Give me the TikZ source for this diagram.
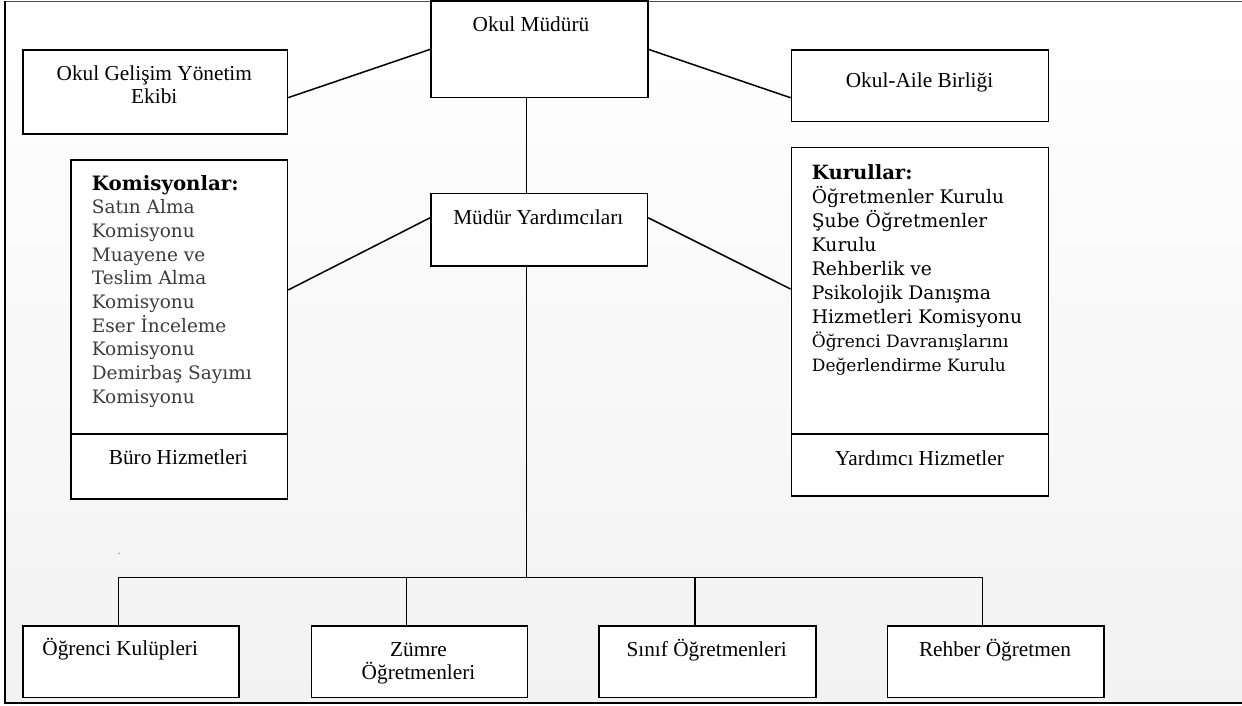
\documentclass[tikz,border=0pt]{standalone}
\usepackage{fontspec}
\setmainfont{Liberation Serif}
\newfontfamily\geo{DejaVu Serif}
\usetikzlibrary{calc}
\definecolor{bgbot}{RGB}{242,242,242}
\definecolor{listgray}{RGB}{60,60,60}
\begin{document}
\begin{tikzpicture}[x=1pt,y=-1pt,
  box/.style={draw=black, line width=1.6pt, fill=white, inner sep=0pt, anchor=north west},
  conn/.style={draw=black, line width=1.5pt},
  tnr/.style={font=\fontsize{21.3}{23.3}\selectfont, inner sep=0pt, text=black, align=center, anchor=base},
  geotxt/.style={font=\geo\fontsize{18.5}{23.7}\selectfont, inner sep=0pt, align=left, anchor=base west},
]
\useasboundingbox (0,0) rectangle (1242,706);
% background and frame
\shade[top color=white, bottom color=bgbot] (5,1.5) rectangle (1242,703.3);
\draw[line width=1.6pt, draw=black!70] (1242,1.5) -- (5,1.5);
\draw[line width=2.2pt, draw=black] (5,1.5) -- (5,703.3) -- (1242,703.3);
\fill[black!50] (119,553.3) circle (0.8);

% boxes
\node[box, minimum width=217pt, minimum height=96.2pt] (mm) at (430,0.5) {};
\node[box, minimum width=264.4pt, minimum height=84.3pt] (ogy) at (22.3,49) {};
\node[box, minimum width=257.1pt, minimum height=71.7pt] (oab) at (790.6,49) {};
\node[box, minimum width=216.7pt, minimum height=274pt] (kom) at (70,159.3) {};
\node[box, minimum width=216.7pt, minimum height=65pt] (buro) at (70,433.3) {};
\node[box, minimum width=257pt, minimum height=286.6pt] (kur) at (790.7,146.7) {};
\node[box, minimum width=257pt, minimum height=61.7pt] (yard) at (790.7,433.3) {};
\node[box, minimum width=216.7pt, minimum height=72.3pt] (my) at (430,192.7) {};
\node[box, minimum width=216pt, minimum height=71.7pt] (b1) at (22.3,625) {};
\node[box, minimum width=216pt, minimum height=71.7pt] (b2) at (310.7,625) {};
\node[box, minimum width=216.7pt, minimum height=71.7pt] (b3) at (598.3,625) {};
\node[box, minimum width=216.6pt, minimum height=71.7pt] (b4) at (886.7,625) {};

% texts (multi-line nodes: base anchor = last line's baseline)
\node[tnr] (mmt) at (531,31.5) {Okul Müdürü};
\node[tnr] (ogyt) at (154.3,104) {Okul Gelişim Yönetim\\Ekibi};
\node[tnr] (oabt) at (919.5,87.3) {Okul-Aile Birliği};
\node[tnr] (myt) at (538.3,224.3) {Müdür Yardımcıları};
\node[tnr] (burot) at (178.3,464) {Büro Hizmetleri};
\node[tnr] (yardt) at (919.5,465) {Yardımcı Hizmetler};
\node[tnr] (b1t) at (120.2,655.5) {Öğrenci Kulüpleri};
\node[tnr] (b2t) at (418.5,679.3) {Zümre\\Öğretmenleri};
\node[tnr] (b3t) at (706.7,656.5) {Sınıf Öğretmenleri};
\node[tnr] (b4t) at (995,656.5) {Rehber Öğretmen};

\node[geotxt, text=listgray] (komt) at (91.7,403.3) {{\fontsize{19.8}{23.7}\selectfont\bfseries\color{black}Komisyonlar:}\\Satın Alma\\Komisyonu\\Muayene ve\\Teslim Alma\\Komisyonu\\Eser İnceleme\\Komisyonu\\Demirbaş Sayımı\\Komisyonu};
\node[geotxt, text=black, font=\geo\fontsize{18.7}{24}\selectfont] (kurt) at (811.7,371.3) {{\fontsize{19.6}{24}\selectfont\bfseries Kurullar:}\\Öğretmenler Kurulu\\Şube Öğretmenler\\Kurulu\\Rehberlik ve\\Psikolojik Danışma\\Hizmetleri Komisyonu\\{\fontsize{17}{24}\selectfont Öğrenci Davranışlarını}\\{\fontsize{17}{24}\selectfont Değerlendirme Kurulu}};

% connectors
\draw[conn] (mm.west) -- ($(ogy.north east)!0.566!(ogy.south east)$);
\draw[conn] (mm.east) -- ($(oab.north west)!0.665!(oab.south west)$);
\draw[conn] ($(mm.south west)+(96.6,0)$) -- ($(my.north west)+(96.6,0)$);
\draw[conn] ($(my.north west)!0.34!(my.south west)$) -- ($(kom.north east)!0.474!(kom.south east)$);
\draw[conn] ($(my.north east)!0.34!(my.south east)$) -- ($(kur.north west)!0.494!(kur.south west)$);
\coordinate (myb) at ($(my.south west)+(96.6,0)$);
\coordinate (busL) at ($(b1.north west)+(96.3,-47.7)$);
\draw[conn] (myb) -- (myb |- busL);
\draw[conn] ($(b1.north west)+(96.3,0)$) -- (busL) -| ($(b4.north west)+(96,0)$);
\draw[conn] ($(b2.north west)+(96,0)$) -- ++(0,-47.7);
\draw[conn] ($(b3.north west)+(96.7,0)$) -- ++(0,-47.7);
\end{tikzpicture}
\end{document}
